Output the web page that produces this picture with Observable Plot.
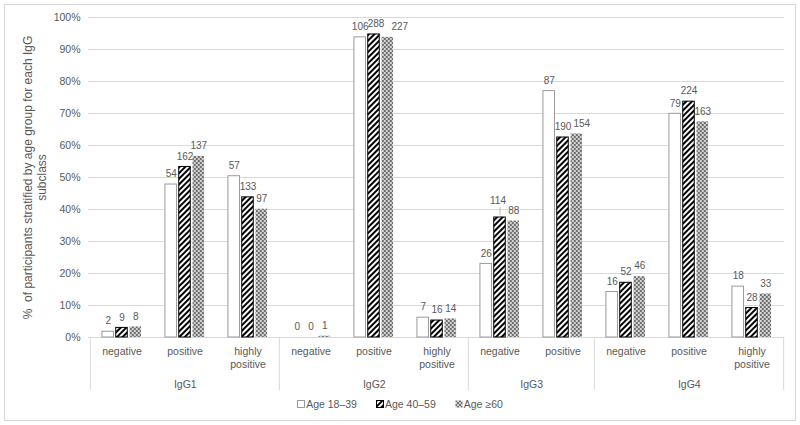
<!DOCTYPE html>
<html>
<head>
<meta charset="utf-8">
<script src="https://cdn.jsdelivr.net/npm/d3@7"></script>
<script src="https://cdn.jsdelivr.net/npm/@observablehq/plot@0.6"></script>
<style>
  body { margin: 0; background: #fff; font-family: "Liberation Sans", Arial, sans-serif; }
  #frame { position: absolute; left: 4px; top: 4px; width: 792px; height: 417px; box-sizing: border-box; border: 1px solid #d9d9d9; }
  #chart { position: absolute; left: 0; top: 0; }
  #legend { position: absolute; left: 0; top: 398px; width: 800px; display: flex; justify-content: center; gap: 19px; font-size: 10.5px; color: #595959; }
  #legend .item { display: flex; align-items: center; }
  #legend svg { margin-right: 1px; }
</style>
</head>
<body>
<svg width="0" height="0" style="position:absolute">
  <defs>
    <pattern id="hatch" patternUnits="userSpaceOnUse" width="4" height="4" patternTransform="rotate(45)">
      <rect width="4" height="4" fill="#fff"></rect>
      <rect width="2" height="4" fill="#000"></rect>
    </pattern>
    <pattern id="dots" patternUnits="userSpaceOnUse" width="4" height="4">
      <rect width="4" height="4" fill="#d4d4d4"></rect>
      <rect x="0" y="0" width="2" height="2" fill="#6e6e6e"></rect>
      <rect x="2" y="2" width="2" height="2" fill="#6e6e6e"></rect>
    </pattern>
  </defs>
</svg>
<div id="frame"></div>
<div id="chart"></div>
<div id="legend"></div>
<script>
// ---- data ----
const subclasses = ["IgG1","IgG1","IgG1","IgG2","IgG2","IgG2","IgG3","IgG3","IgG4","IgG4","IgG4"];
const results = ["negative","positive","highly positive","negative","positive","highly positive","negative","positive","negative","positive","highly positive"];
const ageGroups = ["Age 18–39","Age 40–59","Age ≥60"];
const pct18 = [1.8, 47.8, 50.4, 0.0, 93.8, 6.2, 23.0, 77.0, 14.2, 69.9, 15.9];
const pct40 = [3.0, 53.3, 43.8, 0.0, 94.7, 5.3, 37.5, 62.5, 17.1, 73.7, 9.2];
const pct60 = [3.3, 56.6, 40.1, 0.4, 93.8, 5.8, 36.4, 63.6, 19.0, 67.4, 13.6];
const n18 = [2, 54, 57, 0, 106, 7, 26, 87, 16, 79, 18];
const n40 = [9, 162, 133, 0, 288, 16, 114, 190, 52, 224, 28];
const n60 = [8, 137, 97, 1, 227, 14, 88, 154, 46, 163, 33];
const yTicks = [0, 10, 20, 30, 40, 50, 60, 70, 80, 90, 100];
const yTitle = "%  of participants stratified by age group for each IgG\nsubclass";

// ---- layout / style ----
const W = 800, H = 395, ML = 88, MR = 16, MT = 17, MB = 58;
const keys = subclasses.map((s, i) => s + "|" + results[i]);
const step = (W - ML - MR) / keys.length;
const barW = 11.8, gap = 13.8;
const inset = (step - barW) / 2;
const pcts = [pct18, pct40, pct60];
const counts = [n18, n40, n60];
const fills = ["#ffffff", "url(#hatch)", "url(#dots)"];
const strokes = ["#9a9a9a", "#000000", "none"];
const offsets = [-gap, 0, gap];
// label displacements (pixels) where labels were moved to avoid overlaps
const labelNudge = {
  "IgG2|positive|1": {dx: 2, dy: 0},
  "IgG2|positive|2": {dx: 12, dy: 0},
  "IgG3|positive|2": {dx: 5, dy: 0},
  "IgG3|negative|1": {dx: -2, dy: -6, leader: true}
};
const labelFont = 10;

const rows = keys.map((k, i) => ({key: k, sub: subclasses[i], res: results[i], i}));

const marks = [
  Plot.ruleY(yTicks, {stroke: "#d9d9d9", strokeWidth: 1})
];
ageGroups.forEach((g, s) => {
  marks.push(Plot.barY(rows, {
    x: "key", y: d => pcts[s][d.i], dx: offsets[s],
    insetLeft: inset, insetRight: inset,
    fill: fills[s], stroke: strokes[s], strokeWidth: 1
  }));
  const normal = rows.filter(d => !labelNudge[d.key + "|" + s]);
  const nudged = rows.filter(d => labelNudge[d.key + "|" + s]);
  marks.push(Plot.text(normal, {
    x: "key", y: d => pcts[s][d.i], dx: offsets[s], dy: -10.5,
    text: d => String(counts[s][d.i]), lineAnchor: "middle", fontSize: labelFont
  }));
  nudged.forEach(d => {
    const nd = labelNudge[d.key + "|" + s];
    marks.push(Plot.text([d], {
      x: "key", y: r => pcts[s][r.i], dx: offsets[s] + nd.dx, dy: -10.5 + nd.dy,
      text: r => String(counts[s][r.i]), lineAnchor: "middle", fontSize: labelFont
    }));
    if (nd.leader) {
      marks.push(Plot.ruleX([d], {
        x: "key", y1: r => pcts[s][r.i], y2: r => pcts[s][r.i],
        dx: offsets[s], insetTop: -10, insetBottom: 2,
        stroke: "#a6a6a6", strokeWidth: 0.8
      }));
    }
  });
});
// category labels
marks.push(Plot.text(rows, {
  x: "key", frameAnchor: "bottom", lineAnchor: "top", dy: 8,
  text: d => d.res.replace(" ", "\n"), lineHeight: 1.25, fontSize: 10.5
}));
// group labels and separators
const groupNames = [...new Set(subclasses)];
const groupFirst = groupNames.map(g => keys[subclasses.indexOf(g)]);
groupNames.forEach(g => {
  const members = keys.filter((k, i) => subclasses[i] === g);
  marks.push(Plot.text([g], {
    x: () => members[0], frameAnchor: "bottom", lineAnchor: "middle",
    dx: (members.length - 1) / 2 * step, dy: 47, text: d => d, fontSize: 10.5
  }));
});
marks.push(Plot.ruleX(groupFirst, {x: d => d, dx: -step / 2, insetTop: H - MT - MB, insetBottom: -53, stroke: "#d9d9d9"}));
marks.push(Plot.ruleX([keys[keys.length - 1]], {x: d => d, dx: step / 2, insetTop: H - MT - MB, insetBottom: -53, stroke: "#d9d9d9"}));
// y title
marks.push(Plot.text([yTitle], {frameAnchor: "left", textAnchor: "middle", rotate: -90, dx: -54, lineAnchor: "middle", text: d => d, fontSize: 12, lineHeight: 1.2}));
marks.push(Plot.axisY({ticks: yTicks, tickSize: 0, tickPadding: 8, tickFormat: d => d + "%", label: null, fontSize: 10.5}));

const chart = Plot.plot({
  width: W, height: H,
  marginLeft: ML, marginRight: MR, marginTop: MT, marginBottom: MB,
  style: {fontFamily: "'Liberation Sans', Arial, sans-serif", fontSize: "10.5px", color: "#595959", background: "transparent", overflow: "visible"},
  x: {type: "band", domain: keys, padding: 0, axis: null},
  y: {domain: [0, 100], axis: null},
  marks
});
document.getElementById("chart").appendChild(chart);

// legend
const legend = document.getElementById("legend");
ageGroups.forEach((g, s) => {
  const item = document.createElement("div");
  item.className = "item";
  item.innerHTML = `<svg width="8" height="8"><rect x="0.5" y="0.5" width="7" height="7" fill="${fills[s]}" stroke="${s === 0 ? '#9a9a9a' : (s === 1 ? '#000' : 'none')}"></rect></svg><span>${g}</span>`;
  legend.appendChild(item);
});
</script>
</body>
</html>
